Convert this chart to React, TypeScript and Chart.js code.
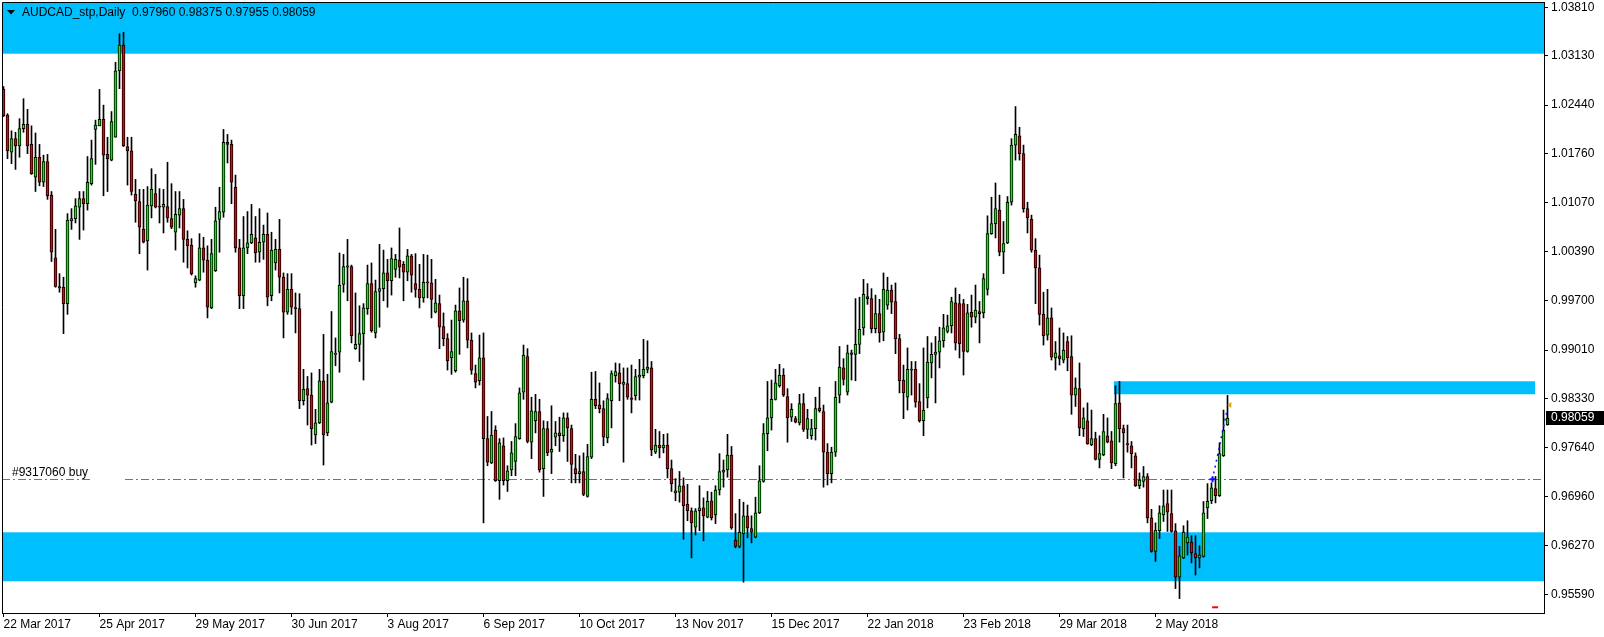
import React, { useEffect, useRef } from 'react';
import { Chart, registerables } from 'chart.js';

Chart.register(...registerables);

// ---- daily candles (AUDCAD, 22 Mar 2017 .. late May 2018) ----
const opens = [
  1.0266,1.0230,1.0178,1.0197,1.0187,1.0211,1.0217,1.0189,1.0143,1.0171,
  1.0136,1.0165,1.0118,1.0030,0.9990,0.9989,0.9966,1.0082,1.0085,1.0101,
  1.0113,1.0106,1.0134,1.0210,1.0215,1.0224,1.0175,1.0167,1.0199,1.0292,
  1.0328,1.0186,1.0180,1.0119,1.0109,1.0070,1.0054,1.0103,1.0120,1.0102,
  1.0101,1.0102,1.0085,1.0066,1.0090,1.0099,1.0056,1.0048,0.9995,0.9999,
  1.0044,1.0027,0.9960,1.0012,1.0084,1.0094,1.0192,1.0189,1.0129,1.0044,
  0.9977,1.0044,1.0051,1.0058,1.0038,1.0052,1.0063,0.9977,1.0023,1.0042,
  1.0003,0.9954,0.9986,0.9960,0.9959,0.9830,0.9847,0.9838,0.9782,0.9799,
  0.9858,0.9785,0.9828,0.9895,0.9898,0.9993,1.0017,1.0018,0.9903,0.9909,
  0.9924,0.9959,0.9994,0.9925,0.9983,0.9987,1.0009,0.9998,1.0014,1.0027,
  1.0021,1.0010,1.0033,0.9994,0.9986,0.9974,0.9996,0.9995,0.9954,0.9966,
  0.9934,0.9917,0.9890,0.9872,0.9956,0.9943,0.9970,0.9915,0.9868,0.9858,
  0.9890,0.9777,0.9743,0.9789,0.9718,0.9767,0.9718,0.9733,0.9745,0.9777,
  0.9842,0.9892,0.9772,0.9802,0.9815,0.9735,0.9791,0.9758,0.9779,0.9785,
  0.9781,0.9806,0.9791,0.9735,0.9728,0.9731,0.9696,0.9751,0.9832,0.9824,
  0.9819,0.9778,0.9830,0.9865,0.9869,0.9853,0.9854,0.9834,0.9837,0.9863,
  0.9865,0.9874,0.9876,0.9758,0.9768,0.9764,0.9768,0.9735,0.9701,0.9702,
  0.9711,0.9685,0.9676,0.9653,0.9676,0.9680,0.9667,0.9690,0.9670,0.9705,
  0.9730,0.9733,0.9754,0.9635,0.9626,0.9644,0.9669,0.9651,0.9639,0.9673,
  0.9717,0.9784,0.9806,0.9832,0.9851,0.9866,0.9836,0.9807,0.9805,0.9799,
  0.9826,0.9790,0.9781,0.9791,0.9820,0.9815,0.9758,0.9728,0.9758,0.9838,
  0.9876,0.9842,0.9897,0.9895,0.9909,0.9932,0.9976,0.9973,0.9931,0.9952,
  0.9926,0.9964,0.9985,0.9969,0.9917,0.9859,0.9835,0.9874,0.9874,0.9829,
  0.9802,0.9834,0.9883,0.9895,0.9898,0.9914,0.9927,0.9935,0.9967,0.9966,
  0.9966,0.9899,0.9954,0.9947,0.9955,0.9953,0.9986,1.0064,1.0078,1.0097,
  1.0038,1.0051,1.0108,1.0188,1.0201,1.0176,1.0099,1.0084,1.0041,1.0016,
  0.9951,0.9922,0.9946,0.9890,0.9893,0.9887,0.9913,0.9892,0.9838,0.9847,
  0.9791,0.9802,0.9768,0.9777,0.9748,0.9754,0.9781,0.9774,0.9742,0.9827,
  0.9791,0.9770,0.9767,0.9753,0.9711,0.9717,0.9724,0.9666,0.9619,0.9648,
  0.9670,0.9686,0.9672,0.9648,0.9583,0.9610,0.9631,0.9632,0.9616,0.9610,
  0.9612,0.9680,0.9690,0.9707,0.9697,0.9753,0.9796,
];

const highs = [
  1.0270,1.0232,1.0208,1.0206,1.0225,1.0253,1.0238,1.0215,1.0205,1.0189,
  1.0174,1.0175,1.0123,1.0070,1.0008,1.0003,1.0092,1.0099,1.0113,1.0123,
  1.0123,1.0172,1.0195,1.0223,1.0266,1.0244,1.0199,1.0235,1.0304,1.0344,
  1.0346,1.0199,1.0199,1.0140,1.0126,1.0126,1.0130,1.0155,1.0147,1.0127,
  1.0126,1.0164,1.0134,1.0123,1.0123,1.0112,1.0068,1.0057,1.0005,1.0064,
  1.0059,1.0047,1.0056,1.0101,1.0129,1.0210,1.0203,1.0195,1.0146,1.0056,
  1.0088,1.0095,1.0105,1.0088,1.0099,1.0076,1.0093,1.0066,1.0056,1.0084,
  1.0009,1.0008,1.0008,0.9981,0.9980,0.9874,0.9864,0.9869,0.9818,0.9874,
  0.9923,0.9867,0.9955,0.9918,1.0037,1.0035,1.0056,1.0020,0.9981,0.9963,
  0.9966,1.0020,1.0023,0.9999,1.0049,1.0041,1.0028,1.0044,1.0035,1.0072,
  1.0025,1.0042,1.0035,1.0036,1.0021,1.0035,1.0034,1.0028,1.0000,0.9978,
  0.9953,0.9924,0.9943,0.9964,0.9988,1.0003,1.0001,0.9925,0.9880,0.9922,
  0.9925,0.9808,0.9815,0.9795,0.9777,0.9778,0.9739,0.9773,0.9798,0.9848,
  0.9908,0.9903,0.9835,0.9839,0.9832,0.9802,0.9801,0.9823,0.9801,0.9807,
  0.9813,0.9813,0.9796,0.9755,0.9753,0.9757,0.9769,0.9870,0.9871,0.9855,
  0.9830,0.9840,0.9872,0.9883,0.9882,0.9876,0.9876,0.9880,0.9874,0.9888,
  0.9916,0.9914,0.9885,0.9790,0.9787,0.9783,0.9784,0.9747,0.9721,0.9731,
  0.9722,0.9713,0.9680,0.9679,0.9711,0.9694,0.9703,0.9702,0.9711,0.9756,
  0.9747,0.9783,0.9766,0.9672,0.9692,0.9688,0.9684,0.9669,0.9695,0.9739,
  0.9798,0.9857,0.9859,0.9874,0.9881,0.9875,0.9847,0.9826,0.9808,0.9839,
  0.9840,0.9818,0.9804,0.9835,0.9849,0.9824,0.9770,0.9765,0.9857,0.9906,
  0.9889,0.9908,0.9901,0.9973,0.9975,1.0000,0.9994,0.9987,0.9978,0.9972,
  1.0009,1.0003,0.9992,0.9995,0.9923,0.9880,0.9904,0.9885,0.9885,0.9854,
  0.9904,0.9920,0.9911,0.9920,0.9933,0.9951,0.9950,0.9975,0.9988,0.9979,
  0.9972,0.9965,0.9978,0.9992,0.9969,1.0008,1.0089,1.0115,1.0135,1.0118,
  1.0081,1.0116,1.0197,1.0242,1.0213,1.0188,1.0108,1.0090,1.0057,1.0034,
  0.9982,0.9986,0.9960,0.9913,0.9932,0.9925,0.9920,0.9921,0.9862,0.9883,
  0.9820,0.9827,0.9817,0.9786,0.9781,0.9811,0.9806,0.9787,0.9851,0.9857,
  0.9796,0.9796,0.9773,0.9757,0.9729,0.9738,0.9728,0.9678,0.9659,0.9683,
  0.9705,0.9705,0.9705,0.9658,0.9626,0.9655,0.9662,0.9641,0.9641,0.9627,
  0.9689,0.9714,0.9715,0.9724,0.9771,0.9817,0.98375,
];

const lows = [
  1.0228,1.0169,1.0162,1.0154,1.0171,1.0206,1.0176,1.0147,1.0123,1.0131,
  1.0130,1.0112,1.0025,0.9989,0.9982,0.9924,0.9951,1.0070,1.0079,1.0056,
  1.0069,1.0097,1.0132,1.0161,1.0215,1.0117,1.0123,1.0166,1.0199,1.0267,
  1.0186,1.0132,1.0118,1.0080,1.0036,1.0051,1.0013,1.0086,1.0100,1.0079,
  1.0065,1.0080,1.0071,1.0041,1.0072,1.0024,1.0016,1.0006,0.9989,0.9998,
  1.0010,0.9946,0.9959,1.0011,1.0038,1.0087,1.0163,1.0106,1.0038,0.9959,
  0.9959,1.0036,1.0050,1.0024,1.0024,1.0028,0.9963,0.9970,1.0013,0.9981,
  0.9918,0.9951,0.9951,0.9925,0.9819,0.9824,0.9796,0.9768,0.9770,0.9798,
  0.9740,0.9781,0.9827,0.9879,0.9870,0.9982,0.9970,0.9911,0.9902,0.9885,
  0.9859,0.9951,0.9926,0.9918,0.9933,0.9970,0.9961,0.9978,1.0003,1.0002,
  0.9970,0.9998,0.9982,0.9975,0.9960,0.9968,0.9974,0.9946,0.9953,0.9903,
  0.9907,0.9873,0.9867,0.9870,0.9895,0.9940,0.9904,0.9867,0.9848,0.9852,
  0.9659,0.9739,0.9742,0.9717,0.9692,0.9712,0.9703,0.9725,0.9725,0.9776,
  0.9832,0.9771,0.9749,0.9785,0.9730,0.9696,0.9753,0.9728,0.9767,0.9759,
  0.9773,0.9745,0.9715,0.9715,0.9715,0.9697,0.9695,0.9749,0.9819,0.9813,
  0.9767,0.9771,0.9792,0.9856,0.9830,0.9744,0.9832,0.9813,0.9831,0.9831,
  0.9862,0.9869,0.9753,0.9756,0.9750,0.9757,0.9722,0.9703,0.9690,0.9688,
  0.9636,0.9662,0.9610,0.9642,0.9648,0.9634,0.9666,0.9663,0.9658,0.9698,
  0.9709,0.9723,0.9650,0.9624,0.9624,0.9576,0.9638,0.9631,0.9638,0.9672,
  0.9716,0.9760,0.9789,0.9831,0.9849,0.9836,0.9772,0.9801,0.9799,0.9796,
  0.9787,0.9777,0.9776,0.9775,0.9814,0.9709,0.9712,0.9715,0.9752,0.9827,
  0.9852,0.9838,0.9859,0.9858,0.9896,0.9922,0.9965,0.9925,0.9925,0.9912,
  0.9914,0.9958,0.9952,0.9896,0.9841,0.9805,0.9817,0.9838,0.9821,0.9800,
  0.9781,0.9820,0.9862,0.9827,0.9876,0.9905,0.9925,0.9925,0.9901,0.9890,
  0.9866,0.9898,0.9933,0.9939,0.9911,0.9946,0.9978,1.0063,1.0058,1.0033,
  1.0008,1.0050,1.0104,1.0167,1.0167,1.0094,1.0065,1.0038,0.9966,0.9936,
  0.9908,0.9915,0.9887,0.9873,0.9880,0.9883,0.9872,0.9811,0.9822,0.9781,
  0.9780,0.9769,0.9767,0.9747,0.9736,0.9753,0.9771,0.9735,0.9739,0.9772,
  0.9722,0.9758,0.9736,0.9710,0.9707,0.9709,0.9659,0.9618,0.9605,0.9637,
  0.9661,0.9647,0.9646,0.9567,0.9553,0.9609,0.9614,0.9603,0.9586,0.9596,
  0.9611,0.9665,0.9686,0.9687,0.9696,0.9752,0.97955,
];

const closes = [
  1.0229,1.0180,1.0197,1.0187,1.0211,1.0217,1.0187,1.0148,1.0171,1.0136,
  1.0165,1.0117,1.0038,0.9990,0.9988,0.9966,1.0083,1.0085,1.0103,1.0113,
  1.0106,1.0136,1.0169,1.0216,1.0224,1.0174,1.0169,1.0221,1.0292,1.0328,
  1.0187,1.0180,1.0123,1.0110,1.0073,1.0052,1.0104,1.0126,1.0101,1.0101,
  1.0105,1.0086,1.0073,1.0091,1.0099,1.0056,1.0047,1.0008,1.0001,1.0044,
  1.0027,0.9961,1.0036,1.0082,1.0095,1.0192,1.0189,1.0136,1.0044,0.9977,
  1.0044,1.0051,1.0063,1.0037,1.0052,1.0063,0.9975,1.0041,1.0042,1.0003,
  0.9954,0.9986,0.9961,0.9959,0.9830,0.9846,0.9838,0.9791,0.9799,0.9858,
  0.9782,0.9827,0.9899,0.9896,0.9992,1.0018,1.0019,0.9921,0.9909,0.9924,
  0.9960,0.9994,0.9928,0.9983,0.9987,1.0009,0.9998,1.0029,1.0028,1.0017,
  1.0010,1.0033,1.0006,0.9986,0.9974,0.9996,0.9995,0.9972,0.9967,0.9933,
  0.9917,0.9886,0.9899,0.9956,0.9942,0.9970,0.9915,0.9873,0.9856,0.9890,
  0.9777,0.9744,0.9782,0.9718,0.9771,0.9718,0.9732,0.9757,0.9780,0.9841,
  0.9894,0.9773,0.9816,0.9815,0.9733,0.9791,0.9757,0.9762,0.9785,0.9781,
  0.9806,0.9792,0.9741,0.9728,0.9731,0.9699,0.9752,0.9832,0.9823,0.9819,
  0.9779,0.9833,0.9868,0.9871,0.9854,0.9856,0.9835,0.9832,0.9864,0.9866,
  0.9874,0.9877,0.9761,0.9768,0.9764,0.9768,0.9735,0.9714,0.9704,0.9711,
  0.9683,0.9676,0.9659,0.9676,0.9680,0.9669,0.9689,0.9666,0.9705,0.9731,
  0.9733,0.9754,0.9652,0.9626,0.9646,0.9669,0.9652,0.9646,0.9673,0.9718,
  0.9784,0.9806,0.9832,0.9855,0.9866,0.9838,0.9806,0.9818,0.9800,0.9826,
  0.9790,0.9805,0.9791,0.9819,0.9816,0.9758,0.9728,0.9758,0.9835,0.9877,
  0.9860,0.9897,0.9895,0.9909,0.9930,0.9979,0.9973,0.9931,0.9952,0.9925,
  0.9986,0.9985,0.9968,0.9917,0.9858,0.9841,0.9874,0.9873,0.9828,0.9802,
  0.9817,0.9884,0.9895,0.9898,0.9914,0.9932,0.9935,0.9969,0.9911,0.9910,
  0.9899,0.9953,0.9947,0.9957,0.9952,1.0001,1.0064,1.0078,1.0099,1.0038,
  1.0050,1.0108,1.0188,1.0203,1.0176,1.0099,1.0086,1.0041,1.0016,0.9951,
  0.9921,0.9946,0.9891,0.9897,0.9889,0.9901,0.9890,0.9838,0.9848,0.9792,
  0.9806,0.9770,0.9777,0.9748,0.9756,0.9787,0.9772,0.9743,0.9826,0.9791,
  0.9785,0.9768,0.9756,0.9711,0.9719,0.9724,0.9666,0.9619,0.9649,0.9673,
  0.9683,0.9674,0.9647,0.9583,0.9613,0.9646,0.9639,0.9617,0.9610,0.9614,
  0.9673,0.9689,0.9708,0.9697,0.9756,0.9789,0.98059,
];

// ---- axes ----
const xTickIndex = [0, 24, 48, 72, 96, 120, 144, 168, 192, 216, 240, 264, 288];
const xTickLabels = [
  '22 Mar 2017', '25 Apr 2017', '29 May 2017', '30 Jun 2017', '3 Aug 2017',
  '6 Sep 2017', '10 Oct 2017', '13 Nov 2017', '15 Dec 2017', '22 Jan 2018',
  '23 Feb 2018', '29 Mar 2018', '2 May 2018',
];
const yTickValues = [
  1.0381, 1.0313, 1.0244, 1.0176, 1.0107, 1.0039, 0.9970,
  0.9901, 0.9833, 0.9764, 0.9696, 0.9627, 0.9559,
];

// ---- drawn objects (price levels) ----
const zoneTop = [1.0316, 1.0600];
const zoneBottom = [0.95772, 0.96458];
const zoneMid = [0.98391, 0.98573];
const zoneMidRange = [277.6, 382.9]; // bar index span
const orderPrice = 0.972;
const orderText = '#9317060 buy';
const tradeLine = [[302.25, 0.972], [305.75, 0.9813]];
const stopMark = [302.9, 0.95408];
const goldMark = [306.45, 0.9824];
const titleText = 'AUDCAD_stp,Daily  0.97960 0.98375 0.97955 0.98059';
const lastPrice = 0.98059;

const BULL = '#00F000';
const BEAR = '#F00000';
const ZONE = '#00BFFF';
const FONT = '"Liberation Sans", Arial, sans-serif';

export default function App() {
  const ref = useRef<HTMLCanvasElement>(null);

  useEffect(() => {
    document.body.style.margin = '0';
    const canvas = ref.current;
    if (!canvas) return;

    const wicks = opens.map((_, i) => ({ x: i, y: [lows[i], highs[i]] }));
    const bodies = opens.map((o, i) => ({ x: i, y: [o, closes[i]] }));
    const bodyColors = opens.map((o, i) => (closes[i] >= o ? BULL : BEAR));

    const overlay = {
      id: 'mt4overlay',
      beforeDatasetsDraw(chart: any) {
        const { ctx, chartArea: a, scales } = chart;
        const x = scales.x, y = scales.y;
        ctx.save();
        ctx.beginPath();
        ctx.rect(a.left, a.top, a.right - a.left, a.bottom - a.top);
        ctx.clip();
        ctx.fillStyle = ZONE;
        const band = (lo: number, hi: number, x0: number, x1: number) => {
          const y0 = y.getPixelForValue(hi), y1 = y.getPixelForValue(lo);
          ctx.fillRect(x0, y0, x1 - x0, y1 - y0);
        };
        band(zoneTop[0], zoneTop[1], a.left, a.right);
        band(zoneBottom[0], zoneBottom[1], a.left, a.right);
        band(zoneMid[0], zoneMid[1], x.getPixelForValue(zoneMidRange[0]), x.getPixelForValue(zoneMidRange[1]));
        // order line (dash-dot)
        const oy = Math.round(y.getPixelForValue(orderPrice)) + 0.5;
        ctx.strokeStyle = '#FF4500';
        ctx.lineWidth = 1;
        ctx.setLineDash([8, 3, 2, 3]);
        ctx.beginPath();
        ctx.moveTo(a.left, oy);
        ctx.lineTo(a.left + 90, oy);
        ctx.stroke();
        ctx.beginPath();
        ctx.moveTo(a.left + 123, oy);
        ctx.lineTo(a.right, oy);
        ctx.stroke();
        ctx.restore();
      },
      afterDatasetsDraw(chart: any) {
        const { ctx, scales } = chart;
        const x = scales.x, y = scales.y;
        ctx.save();
        // trade dotted line
        ctx.strokeStyle = '#1010FF';
        ctx.lineWidth = 1.5;
        ctx.setLineDash([2, 4]);
        ctx.beginPath();
        ctx.moveTo(x.getPixelForValue(tradeLine[0][0]), y.getPixelForValue(tradeLine[0][1]));
        ctx.lineTo(x.getPixelForValue(tradeLine[1][0]), y.getPixelForValue(tradeLine[1][1]));
        ctx.stroke();
        ctx.setLineDash([]);
        // entry arrow
        const ex = x.getPixelForValue(tradeLine[0][0]);
        const ey = y.getPixelForValue(tradeLine[0][1]);
        ctx.lineWidth = 2;
        ctx.beginPath();
        ctx.moveTo(ex - 3, ey);
        ctx.lineTo(ex + 3, ey);
        ctx.moveTo(ex, ey - 3);
        ctx.lineTo(ex, ey + 3);
        ctx.stroke();
        // stop marker
        const sx = x.getPixelForValue(stopMark[0]);
        const sy = y.getPixelForValue(stopMark[1]);
        ctx.strokeStyle = '#FF0000';
        ctx.lineWidth = 2;
        ctx.beginPath();
        ctx.moveTo(sx - 3, sy);
        ctx.lineTo(sx + 3, sy);
        ctx.stroke();
        // gold arrow
        const gx = x.getPixelForValue(goldMark[0]);
        const gy = y.getPixelForValue(goldMark[1]);
        ctx.fillStyle = '#DAA520';
        ctx.beginPath();
        ctx.moveTo(gx - 2, gy);
        ctx.lineTo(gx + 2, gy - 3);
        ctx.lineTo(gx + 2, gy + 3);
        ctx.closePath();
        ctx.fill();
        ctx.restore();
      },
      afterDraw(chart: any) {
        const { ctx, chartArea: a, scales } = chart;
        const y = scales.y;
        ctx.save();
        // frame (left, top)
        ctx.strokeStyle = '#000';
        ctx.lineWidth = 1;
        ctx.beginPath();
        ctx.moveTo(a.left + 0.5, a.bottom);
        ctx.lineTo(a.left + 0.5, a.top + 0.5);
        ctx.lineTo(a.right, a.top + 0.5);
        ctx.stroke();
        // title
        ctx.fillStyle = '#000';
        ctx.beginPath();
        ctx.moveTo(7, 10);
        ctx.lineTo(15, 10);
        ctx.lineTo(11, 14.5);
        ctx.closePath();
        ctx.fill();
        ctx.font = '12px ' + FONT;
        ctx.textBaseline = 'middle';
        ctx.textAlign = 'left';
        ctx.fillText(titleText, 22, 13);
        // order label
        ctx.fillText(orderText, 12, y.getPixelForValue(orderPrice) - 7);
        // last price box
        const py = Math.round(y.getPixelForValue(lastPrice));
        ctx.fillStyle = '#000';
        ctx.fillRect(a.right + 2, py - 7, 60, 14);
        ctx.fillStyle = '#FFF';
        ctx.fillText(lastPrice.toFixed(5), a.right + 7, py);
        ctx.restore();
      },
    };

    const chart = new Chart(canvas, {
      type: 'bar',
      data: {
        datasets: [
          {
            label: 'wick',
            data: wicks as any,
            backgroundColor: '#000',
            borderWidth: 0,
            barThickness: 1,
            grouped: false,
            order: 2,
          } as any,
          {
            label: 'body',
            data: bodies as any,
            backgroundColor: bodyColors,
            borderColor: '#000',
            borderWidth: 1,
            borderSkipped: false,
            barThickness: 3,
            minBarLength: 1,
            grouped: false,
            order: 1,
          } as any,
        ],
      },
      options: {
        animation: false,
        responsive: false,
        maintainAspectRatio: false,
        devicePixelRatio: 1,
        layout: { padding: { left: 2, top: 2, right: 0, bottom: 0 } },
        plugins: {
          legend: { display: false },
          tooltip: { enabled: false },
          title: { display: false },
        },
        scales: {
          x: {
            type: 'linear',
            position: 'bottom',
            min: -0.375,
            max: 385.125,
            offset: false,
            grid: { drawOnChartArea: false, drawTicks: true, tickLength: 4, color: '#000', offset: false },
            border: { color: '#000', width: 1 },
            ticks: {
              align: 'start',
              autoSkip: false,
              maxRotation: 0,
              minRotation: 0,
              padding: 0,
              color: '#000',
              font: { family: FONT, size: 12 },
              callback: (v: any) => {
                const k = xTickIndex.indexOf(Number(v));
                return k >= 0 ? xTickLabels[k] : '';
              },
            },
            afterBuildTicks: (s: any) => {
              s.ticks = xTickIndex.map((v) => ({ value: v }));
            },
            afterFit: (s: any) => {
              s.height = 24;
              s.paddingLeft = 0;
              s.paddingRight = 0;
            },
          } as any,
          y: {
            type: 'linear',
            position: 'right',
            min: 0.95328,
            max: 1.03884,
            grid: { drawOnChartArea: false, drawTicks: true, tickLength: 4, color: '#000' },
            border: { color: '#000', width: 1 },
            ticks: {
              padding: 3,
              color: '#000',
              font: { family: FONT, size: 12 },
              callback: (v: any) => Number(v).toFixed(5),
            },
            afterBuildTicks: (s: any) => {
              s.ticks = yTickValues.map((v) => ({ value: v }));
            },
            afterFit: (s: any) => {
              s.width = 60;
              s.paddingTop = 0;
              s.paddingBottom = 0;
            },
          } as any,
        },
      },
      plugins: [overlay],
    });

    return () => chart.destroy();
  }, []);

  return (
    <canvas
      ref={ref}
      width={1604}
      height={637}
      style={{ display: 'block', width: 1604, height: 637, background: '#fff' }}
    />
  );
}
